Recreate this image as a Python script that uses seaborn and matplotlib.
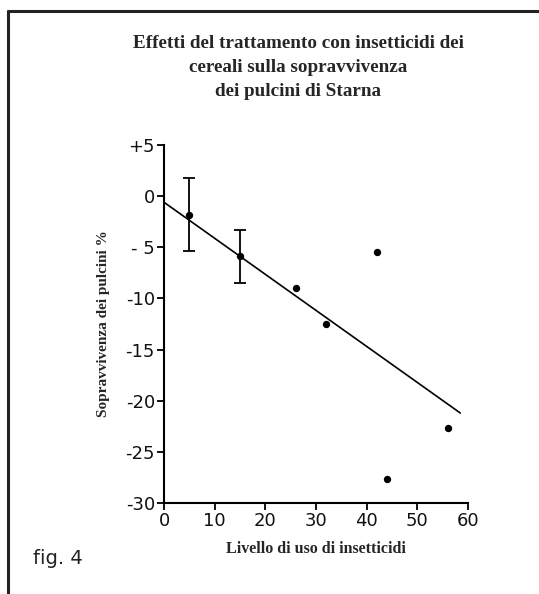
import matplotlib
matplotlib.use("Agg")
import matplotlib.pyplot as plt
import seaborn as sns
import pandas as pd
from matplotlib.lines import Line2D

# Data
x_vals = [5, 15, 26, 32, 42, 44, 56]
y_vals = [-1.8, -5.9, -9.0, -12.5, -5.5, -27.7, -22.7]
err_x = [5, 15]
err_low = [-5.4, -8.5]
err_high = [1.8, -3.3]
err_mid = [-1.8, -5.9]
fit_x = [0, 58.5]
fit_y = [-0.6, -21.2]
x_ticks = [0, 10, 20, 30, 40, 50, 60]
y_ticks = [5, 0, -5, -10, -15, -20, -25, -30]
y_tick_labels = ["+5", "0", "- 5", "-10", "-15", "-20", "-25", "-30"]

sns.set_style("white")
plt.rcParams['font.family'] = ['DejaVu Sans']

fig = plt.figure(figsize=(5.39, 5.94), dpi=100)
ax = fig.add_axes([0.3043, 0.1532, 0.5637, 0.6027])

df = pd.DataFrame({"x": x_vals, "y": y_vals})
sns.scatterplot(data=df, x="x", y="y", ax=ax, color="black", s=28,
                edgecolor="black", linewidth=0, zorder=3)
sns.lineplot(x=fit_x, y=fit_y, ax=ax, color="black", linewidth=1.2, zorder=2)

yerr_lo = [m - l for m, l in zip(err_mid, err_low)]
yerr_hi = [h - m for m, h in zip(err_mid, err_high)]
ax.errorbar(err_x, err_mid, yerr=[yerr_lo, yerr_hi], fmt="none",
            ecolor="black", elinewidth=1.3, capsize=4, capthick=1.3, zorder=3)

ax.set_xlim(0, 60)
ax.set_ylim(-30, 5)
ax.set_xticks(x_ticks)
ax.set_yticks(y_ticks)
ax.set_yticklabels(y_tick_labels)
ax.tick_params(axis="both", direction="out", length=5, width=1.3,
               color="black", labelsize=13, labelcolor="#111111", pad=1.5,
               bottom=True, left=True)
for s in ["top", "right"]:
    ax.spines[s].set_visible(False)
for s in ["left", "bottom"]:
    ax.spines[s].set_color("black")
    ax.spines[s].set_linewidth(1.5)

ax.set_xlabel("Livello di uso di insetticidi", fontfamily="Liberation Serif",
              fontweight="bold", fontsize=11.5, labelpad=8)
ax.set_ylabel("Sopravvivenza dei pulcini %", fontfamily="Liberation Serif",
              fontweight="bold", fontsize=11, labelpad=11)

fig.text(0.553, 0.941, "Effetti del trattamento con insetticidi dei\ncereali sulla sopravvivenza\ndei pulcini di Starna",
         ha="center", va="top", fontfamily="Liberation Serif",
         fontweight="bold", fontsize=13.8, linespacing=1.55)

fig.text(0.061, 0.06, "fig. 4", fontsize=14, ha="left", va="center", color="#222222")

# frame lines
fig.add_artist(Line2D([0.0148, 1.0], [0.9815, 0.9815], transform=fig.transFigure,
                      color="#222222", linewidth=2.2))
fig.add_artist(Line2D([0.0148, 0.0148], [0.0, 0.9815], transform=fig.transFigure,
                      color="#222222", linewidth=2.2))

fig.savefig("out.png", dpi=100)
